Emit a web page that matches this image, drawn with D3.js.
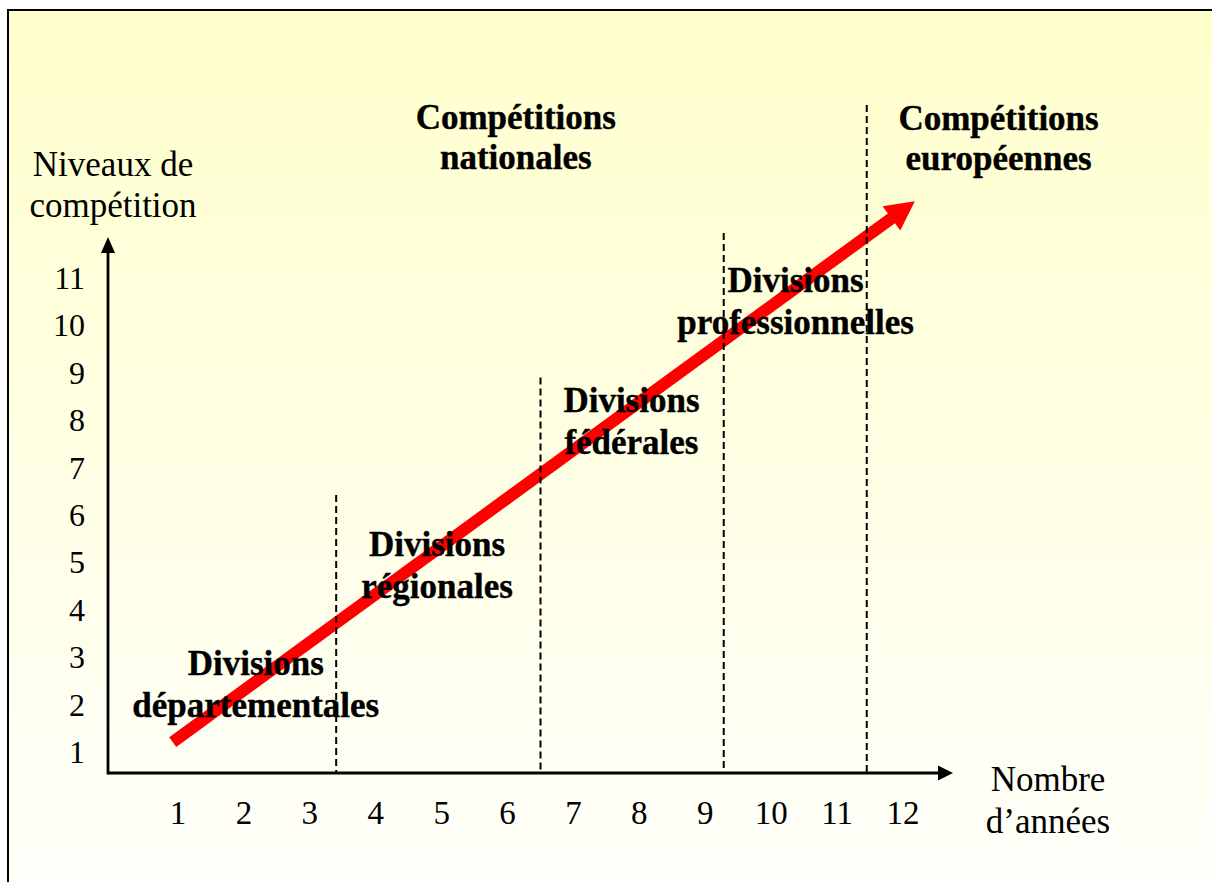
<!DOCTYPE html>
<html><head><meta charset="utf-8">
<script src="https://cdn.jsdelivr.net/npm/d3@7"></script>
<style>body{margin:0;background:#fff}svg{display:block}</style>
</head><body>
<script>
// ---- data ----
const years = [1,2,3,4,5,6,7,8,9,10,11,12];
const levels = [1,2,3,4,5,6,7,8,9,10,11];
const xTickLabels = ["1","2","3","4","5","6","7","8","9","10","11","12"];
const yTickLabels = ["1","2","3","4","5","6","7","8","9","10","11"];
// division boundaries: year of each dashed line and the level it rises to
const boundaryYears = [3.4, 6.5, 9.28, 11.45];
const boundaryTops = [6.42, 8.9, 11.95, 14.65];
// division labels: lines, year centre, level of first line
const divisionNames = [["Divisions","départementales"],["Divisions","régionales"],["Divisions","fédérales"],["Divisions","professionnelles"]];
const divisionYears = [2.18, 4.93, 7.88, 10.37];
const divisionLevels = [2.63, 5.14, 8.18, 10.7];
const competitionNames = [["Compétitions","nationales"],["Compétitions","européennes"]];
const competitionYears = [6.125, 13.45];
const competitionLevels = [14.15, 14.12];
const arrowStart = [0.92, 1.21];
const arrowEnd = [12.18, 12.62];
const xTitle = ["Nombre","d’années"];
const yTitle = ["Niveaux de","compétition"];

// ---- layout ----
const W = 1212, H = 882;
const svg = d3.select("body").append("svg").attr("width", W).attr("height", H);
const x = d3.scaleLinear().domain([1,12]).range([178,903]);
const y = d3.scaleLinear().domain([1,11]).range([752,278]);
const axisX0 = 108, axisY0 = 773;

const defs = svg.append("defs");
const grad = defs.append("linearGradient").attr("id","bg").attr("x1",0).attr("y1",0).attr("x2",0).attr("y2",1);
grad.append("stop").attr("offset","0%").attr("stop-color","#FFFFCC");
grad.append("stop").attr("offset","100%").attr("stop-color","#FFFFFC");

svg.append("rect").attr("x",8).attr("y",10).attr("width",W+20).attr("height",H+20)
  .attr("fill","url(#bg)").attr("stroke","#000").attr("stroke-width",2);

// red arrow
(function(){
  const sx = x(arrowStart[0]), sy = y(arrowStart[1]);
  const tx = x(arrowEnd[0]), ty = y(arrowEnd[1]);
  const dx = tx - sx, dy = ty - sy, L = Math.hypot(dx,dy);
  const ux = dx/L, uy = dy/L, nx = -uy, ny = ux;
  const w = 6, hw = 15, hl = 29;
  const bx = tx - ux*hl, by = ty - uy*hl;
  const pts = [[sx+nx*w,sy+ny*w],[bx+nx*w,by+ny*w],[bx+nx*hw,by+ny*hw],[tx,ty],
               [bx-nx*hw,by-ny*hw],[bx-nx*w,by-ny*w],[sx-nx*w,sy-ny*w]];
  svg.append("path").attr("d", d3.line()(pts)+"Z").attr("fill","#FF0000");
})();

const serif = "'Liberation Serif','Times New Roman',serif";
function multi(lines, cx, baseY, opts){
  const t = svg.append("text").attr("font-family", serif).attr("font-size", opts.size)
    .attr("font-weight", opts.bold ? "bold" : "normal").attr("text-anchor", opts.anchor || "middle")
    .attr("fill","#000");
  if (opts.bold) t.attr("stroke","#000").attr("stroke-width",0.4);
  lines.forEach((s,i)=> t.append("tspan").attr("x", cx).attr("y", baseY + i*opts.lh).text(s));
}

divisionNames.forEach((d,i)=> multi(d, x(divisionYears[i]), y(divisionLevels[i]), {size:35, bold:true, lh:42}));
competitionNames.forEach((d,i)=> multi(d, x(competitionYears[i]), y(competitionLevels[i]), {size:35, bold:true, lh:40}));

// dashed boundaries
svg.append("g").selectAll("line").data(boundaryYears).join("line")
  .attr("x1", d=>x(d)).attr("x2", d=>x(d))
  .attr("y1", (d,i)=>y(boundaryTops[i])).attr("y2", axisY0)
  .attr("stroke","#000").attr("stroke-width",2).attr("stroke-dasharray","7,4");

// axes
const xEnd = 953, yEnd = 237;
svg.append("line").attr("x1",axisX0).attr("y1",axisY0).attr("x2",xEnd-12).attr("y2",axisY0).attr("stroke","#000").attr("stroke-width",2.8);
svg.append("line").attr("x1",axisX0).attr("y1",axisY0+1.4).attr("x2",axisX0).attr("y2",yEnd+12).attr("stroke","#000").attr("stroke-width",2.8);
svg.append("path").attr("d",`M${xEnd},${axisY0}L${xEnd-15},${axisY0-7.5}L${xEnd-15},${axisY0+7.5}Z`).attr("fill","#000");
svg.append("path").attr("d",`M${axisX0},${yEnd}L${axisX0-7},${yEnd+16}L${axisX0+7},${yEnd+16}Z`).attr("fill","#000");

// tick labels
svg.append("g").selectAll("text").data(years).join("text")
  .attr("x", d=>x(d)).attr("y", 824).attr("text-anchor","middle")
  .attr("font-family", serif).attr("font-size",33).text((d,i)=>xTickLabels[i]);
svg.append("g").selectAll("text").data(levels).join("text")
  .attr("x", 85).attr("y", d=>y(d)+11).attr("text-anchor","end")
  .attr("font-family", serif).attr("font-size",32).text((d,i)=>yTickLabels[i]);

// axis titles
multi(yTitle, 113, 176, {size:35, lh:41});
multi(xTitle, 1048, 791, {size:35, lh:42});
</script>
</body></html>
